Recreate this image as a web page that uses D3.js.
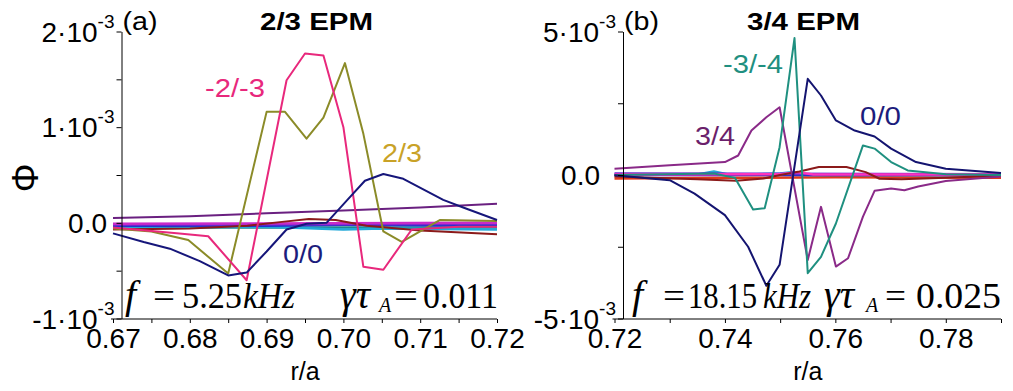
<!DOCTYPE html>
<html>
<head>
<meta charset="utf-8">
<script src="https://cdn.jsdelivr.net/npm/d3@7"></script>
<style>
  body { margin: 0; background: #fff; }
  svg { display: block; background: #fff; }
  text { font-family: "Liberation Sans", Arial, sans-serif; fill: #000; }
  .serif { font-family: "Liberation Serif", "Times New Roman", serif; font-weight: normal; }
</style>
</head>
<body>
<svg width="1013" height="391"></svg>
<script>
// Phi values are in units of 1e-3

// panel (a): 2/3 EPM
const a_m23 = [[0.670,-0.05],[0.6783,-0.11],[0.6824,-0.14],[0.6874,-0.60],[0.6926,1.49],[0.6950,1.77],[0.6974,1.75],[0.7000,1.00],[0.7026,-0.46],[0.7052,-0.49],[0.7089,-0.07],[0.7150,-0.04],[0.7200,-0.04]];
const a_23 = [[0.670,-0.06],[0.675,-0.09],[0.6798,-0.18],[0.6850,-0.53],[0.6900,1.16],[0.6924,1.16],[0.6952,0.88],[0.6974,1.10],[0.7002,1.67],[0.7026,0.93],[0.7052,-0.09],[0.7076,-0.20],[0.7126,0.03],[0.7200,0.02]];
const a_00 = [[0.670,-0.11],[0.674,-0.20],[0.6774,-0.27],[0.6813,-0.40],[0.6850,-0.55],[0.6874,-0.52],[0.6900,-0.30],[0.6926,-0.07],[0.6952,-0.01],[0.6978,0.00],[0.7004,0.23],[0.7028,0.44],[0.7052,0.51],[0.7078,0.46],[0.7130,0.24],[0.7156,0.16],[0.7200,0.03]];
const a_purple = [[0.670,0.05],[0.680,0.07],[0.690,0.10],[0.700,0.13],[0.710,0.16],[0.720,0.20]];
const a_red = [[0.670,-0.07],[0.680,-0.06],[0.6875,-0.03],[0.692,0.01],[0.6955,0.04],[0.699,0.03],[0.703,-0.03],[0.710,-0.08],[0.720,-0.12]];
const a_blue = [[0.670,-0.03],[0.690,-0.03],[0.700,-0.02],[0.720,-0.03]];
const a_cyan = [[0.670,-0.04],[0.690,-0.04],[0.700,-0.07],[0.705,-0.06],[0.720,-0.07]];
const a_violet = [[0.670,-0.02],[0.720,-0.01]];
const a_magenta = [[0.670,-0.01],[0.720,0.00]];
const a_teal = [[0.670,-0.05],[0.720,-0.05]];

// panel (b): 3/4 EPM
const b_00 = [[0.720,-0.01],[0.730,-0.18],[0.7345,-0.65],[0.740,-1.40],[0.7442,-2.50],[0.7475,-3.86],[0.7499,-3.13],[0.7550,3.35],[0.7574,2.77],[0.7601,1.90],[0.7635,1.55],[0.7671,1.34],[0.7701,0.92],[0.7746,0.45],[0.780,0.22],[0.790,0.07]];
const b_m34 = [[0.720,0.00],[0.738,0.05],[0.7418,-0.10],[0.7451,-1.20],[0.7472,-1.16],[0.7499,0.97],[0.7526,4.77],[0.7550,-3.42],[0.7574,-2.85],[0.7601,-1.69],[0.7650,1.03],[0.7671,0.92],[0.7701,0.45],[0.7731,0.16],[0.780,0.03],[0.790,0.00]];
const b_34 = [[0.720,0.22],[0.730,0.34],[0.740,0.45],[0.7424,0.68],[0.7448,1.55],[0.7475,2.01],[0.7499,2.36],[0.7550,-2.96],[0.7574,-1.11],[0.7601,-3.19],[0.7623,-2.90],[0.7650,-1.45],[0.7671,-0.55],[0.7701,-0.47],[0.7725,-0.53],[0.775,-0.40],[0.780,-0.21],[0.790,-0.05]];
const b_red = [[0.720,-0.05],[0.735,-0.15],[0.742,-0.20],[0.747,-0.12],[0.750,0.00],[0.7535,0.12],[0.757,0.28],[0.762,0.28],[0.7655,0.10],[0.768,-0.13],[0.772,-0.15],[0.780,-0.10],[0.790,-0.02]];
const b_blue = [[0.720,0.00],[0.790,0.00]];
const b_violet = [[0.720,0.05],[0.790,0.03]];
const b_pink = [[0.720,0.02],[0.750,0.03],[0.753,0.10],[0.756,0.02],[0.790,0.02]];
const b_orange = [[0.720,-0.12],[0.740,-0.10],[0.760,-0.08],[0.790,-0.10]];
const b_cyan = [[0.720,0.00],[0.735,0.02],[0.738,0.12],[0.741,0.00],[0.750,0.05],[0.752,0.10],[0.755,0.00],[0.790,0.00]];

// ticks
const xTicksA = [0.67,0.675,0.68,0.685,0.69,0.695,0.70,0.705,0.71,0.715,0.72];
const xLabelsA = [0.67,0.68,0.69,0.70,0.71,0.72];
const xTicksB = [0.72,0.73,0.74,0.75,0.76,0.77,0.78,0.79];
const xLabelsB = [0.72,0.74,0.76,0.78];
const yTicksA = [-1,-0.5,0,0.5,1,1.5,2];
const yLabelsA = [[2,"2·10","-3"],[1,"1·10","-3"],[0,"0.0",""],[-1,"-1·10","-3"]];
const yTicksB = [-5,-2.5,0,2.5,5];
const yLabelsB = [[5,"5·10","-3"],[0,"0.0",""],[-5,"-5·10","-3"]];

const svg = d3.select("svg");

const drawPanel = (p) => {
  const x = d3.scaleLinear().domain(p.xDomain).range(p.xRange);
  const y = d3.scaleLinear().domain(p.yDomain).range([318.5, 31.5]);
  const line = d3.line().x(d => x(d[0])).y(d => y(d[1]));

  p.series.forEach(s => {
    svg.append("path")
      .attr("d", line(s.data))
      .attr("fill", "none")
      .attr("stroke", s.color)
      .attr("stroke-width", s.w || 2)
      .attr("stroke-linejoin", "round");
  });

  // x axis
  const isLabel = (d) => p.xLabels.some(l => Math.abs(l - d) < 1e-9);
  const gx = svg.append("g")
    .attr("transform", "translate(0,319)")
    .call(d3.axisBottom(x).tickValues(p.xTicks).tickSize(4).tickSizeOuter(0)
      .tickFormat(d => isLabel(d) ? d.toFixed(2) : ""));
  gx.attr("font-size", 28);
  gx.select(".domain").attr("d", `M${p.xRange[0] - 2},0H${p.xRange[1]}`);
  gx.selectAll(".tick text").attr("y", 9).attr("dy", "0.71em");

  // y axis
  svg.append("g")
    .attr("transform", `translate(${p.yAxisX},0)`)
    .call(d3.axisLeft(y).tickValues(p.yTicks).tickSize(5).tickSizeOuter(0).tickFormat(""));

  p.yLabels.forEach(([v, base, exp]) => {
    const t = svg.append("text")
      .attr("x", exp ? p.yAxisX - 7 : p.zeroEnd)
      .attr("y", y(v) + 10)
      .attr("text-anchor", "end")
      .attr("font-size", 28);
    t.append("tspan").text(base);
    if (exp) {
      t.append("tspan").attr("font-size", 19).attr("dy", -14).text(exp);
    }
  });

  // title and panel letter
  svg.append("text").attr("x", p.titleX).attr("y", 30)
    .attr("font-size", 24).attr("font-weight", "bold")
    .attr("textLength", 113).attr("lengthAdjust", "spacingAndGlyphs")
    .text(p.title);
  svg.append("text").attr("x", p.yAxisX + 1).attr("y", 30)
    .attr("font-size", 26).attr("textLength", 35).attr("lengthAdjust", "spacingAndGlyphs")
    .text(p.letter);

  // axis title
  svg.append("text")
    .attr("x", (p.xRange[0] + p.xRange[1]) / 2).attr("y", 380)
    .attr("text-anchor", "middle").attr("font-size", 25)
    .text("r/a");

  // curve labels
  p.labels.forEach(l => {
    svg.append("text").attr("x", l.x).attr("y", l.y)
      .attr("font-size", 26)
      .style("fill", l.color)
      .attr("textLength", l.w).attr("lengthAdjust", "spacingAndGlyphs")
      .text(l.t);
  });

  // frequency / growth rate note
  p.note.forEach(n => {
    const t = svg.append("text").attr("class", "serif")
      .attr("x", n.x).attr("y", n.sub ? 312 : 308)
      .attr("font-size", n.sub ? 20 : (n.big ? 40 : 35))
      .attr("font-style", n.it ? "italic" : "normal")
      .text(n.t);
    if (n.w) t.attr("textLength", n.w).attr("lengthAdjust", "spacingAndGlyphs");
  });
};

drawPanel({
  xDomain: [0.67, 0.72], xRange: [113, 497],
  yDomain: [-1, 2], yAxisX: 121.5, zeroEnd: 107,
  xTicks: xTicksA, xLabels: xLabelsA, yTicks: yTicksA, yLabels: yLabelsA,
  title: "2/3 EPM", titleX: 260, letter: "(a)",
  series: [
    { data: a_teal, color: "#1a8a90", w: 2.5 },
    { data: a_cyan, color: "#22a8d8", w: 2.5 },
    { data: a_blue, color: "#2233cc", w: 2.5 },
    { data: a_violet, color: "#6a2ad0", w: 2.5 },
    { data: a_magenta, color: "#c82ac8", w: 2.5 },
    { data: a_red, color: "#8b1a1a" },
    { data: a_purple, color: "#6a2080" },
    { data: a_23, color: "#8b8b28" },
    { data: a_m23, color: "#e8287c" },
    { data: a_00, color: "#16167a" }
  ],
  labels: [
    { t: "-2/-3", x: 205, y: 97, w: 60, color: "#e8287c" },
    { t: "2/3", x: 382, y: 162, w: 40, color: "#c9a227" },
    { t: "0/0", x: 283, y: 263, w: 40, color: "#1c1c7c" }
  ],
  note: [
    { t: "f", x: 125, it: true, big: true },
    { t: "=", x: 153, w: 22 },
    { t: "5.25", x: 182, w: 60 },
    { t: "kHz", x: 243, w: 52, it: true },
    { t: "γτ", x: 340, it: true, big: true },
    { t: "A", x: 379, sub: true, it: true },
    { t: "=", x: 394, w: 24 },
    { t: "0.011", x: 423, w: 75 }
  ]
});

drawPanel({
  xDomain: [0.72, 0.79], xRange: [614.5, 1001],
  yDomain: [-5, 5], yAxisX: 623, zeroEnd: 600,
  xTicks: xTicksB, xLabels: xLabelsB, yTicks: yTicksB, yLabels: yLabelsB,
  title: "3/4 EPM", titleX: 747, letter: "(b)",
  series: [
    { data: b_orange, color: "#e03a1a", w: 2.5 },
    { data: b_cyan, color: "#22a8d8", w: 2.5 },
    { data: b_blue, color: "#2233cc", w: 2.5 },
    { data: b_violet, color: "#6a2ad0", w: 2.5 },
    { data: b_pink, color: "#ff33bb", w: 2.5 },
    { data: b_red, color: "#8b1a1a" },
    { data: b_34, color: "#8a2a88" },
    { data: b_m34, color: "#1f9080" },
    { data: b_00, color: "#141470" }
  ],
  labels: [
    { t: "-3/-4", x: 723, y: 73, w: 60, color: "#1f8f80" },
    { t: "3/4", x: 695, y: 145, w: 40, color: "#6b1f6b" },
    { t: "0/0", x: 860, y: 125, w: 41, color: "#1c1c7c" }
  ],
  note: [
    { t: "f", x: 632, it: true, big: true },
    { t: "=", x: 663, w: 22 },
    { t: "18.15", x: 688, w: 69 },
    { t: "kHz", x: 763, w: 48, it: true },
    { t: "γτ", x: 824, it: true, big: true },
    { t: "A", x: 866, sub: true, it: true },
    { t: "=", x: 885, w: 21 },
    { t: "0.025", x: 916, w: 85 }
  ]
});

// y axis title, rotated Phi
svg.append("text")
  .attr("transform", "translate(38,178) rotate(-90)")
  .attr("text-anchor", "middle")
  .attr("font-size", 36)
  .text("Φ");
</script>
</body>
</html>
